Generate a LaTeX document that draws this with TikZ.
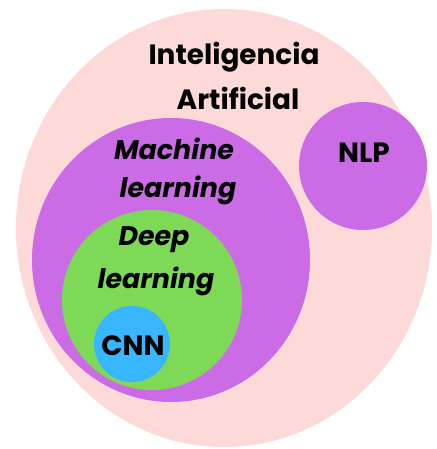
\documentclass[tikz,border=0pt]{standalone}
\usepackage{fontspec}
\setmainfont{Poppins}
\definecolor{aipink}{HTML}{FDDAD8}
\definecolor{mlpurple}{HTML}{CB6CE6}
\definecolor{dlgreen}{HTML}{7ED957}
\definecolor{cnnblue}{HTML}{38B6FF}
\begin{document}
\begin{tikzpicture}[x=1bp,y=-1bp,
  lbl/.style={font=\fontsize{28}{30}\selectfont\bfseries, text=black, inner sep=0pt, anchor=base},
  ilbl/.style={lbl, font=\fontsize{27}{30}\selectfont\bfseries\itshape}]
\useasboundingbox (0,0) rectangle (437,449);
\fill[white] (0,0) rectangle (437,449);
\fill[aipink] (224,228) ellipse [x radius=208, y radius=219];
\fill[mlpurple] (171,260) ellipse [x radius=139, y radius=142];
\fill[mlpurple] (363,166) circle [radius=64];
\fill[dlgreen] (152,300) circle [radius=90];
\fill[cnnblue] (132,344) circle [radius=38];
\node[lbl] (ai1) at (234,65) {Inteligencia};
\node[lbl] (ai2) at (238,110) {Artificial};
\node[ilbl] (ml1) at (174,160) {Machine};
\node[ilbl] (ml2) at (178,198) {learning};
\node[ilbl] (dl1) at (154,245) {Deep};
\node[ilbl] (dl2) at (156,288) {learning};
\node[lbl] (cnn) at (133,355) {CNN};
\node[lbl] (nlp) at (364,163) {NLP};
\end{tikzpicture}
\end{document}
